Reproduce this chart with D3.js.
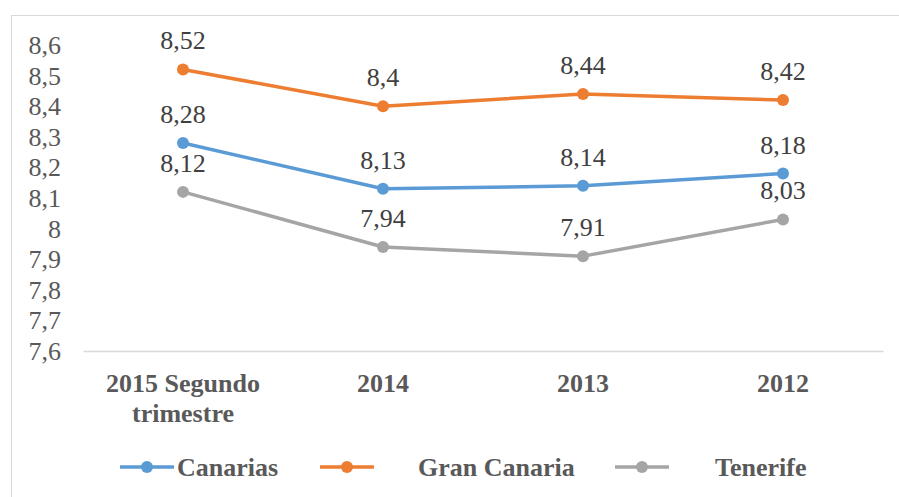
<!DOCTYPE html>
<html>
<head>
<meta charset="utf-8">
<script src="https://cdn.jsdelivr.net/npm/d3@7"></script>
</head>
<body style="margin:0; background:#fff">
<svg id="chart" width="899" height="497"></svg>
<script>
// datos
let categories = ['2015 Segundo trimestre', '2014', '2013', '2012']
let seriesNames = ['Canarias', 'Gran Canaria', 'Tenerife']
let canarias = [8.28, 8.13, 8.14, 8.18]
let granCanaria = [8.52, 8.4, 8.44, 8.42]
let tenerife = [8.12, 7.94, 7.91, 8.03]
let yTicks = [7.6, 7.7, 7.8, 7.9, 8, 8.1, 8.2, 8.3, 8.4, 8.5, 8.6]

let colors = ['#5B9BD5', '#ED7D31', '#A5A5A5']
let series = [canarias, granCanaria, tenerife].map(function (vals, i) {
  return { name: seriesNames[i], color: colors[i], values: vals }
})

let svg = d3.select('#chart')
let fmt = function (v) { return String(v).replace('.', ',') }

// texto con fuente serif
function addText (parent, px, py, str, opts) {
  let t = parent.append('text')
    .attr('x', px).attr('y', py)
    .attr('font-family', 'Liberation Serif')
    .attr('font-size', opts.size || 26)
    .attr('fill', opts.fill || '#595959')
    .attr('text-anchor', opts.anchor || 'start')
  if (opts.bold) t.attr('font-weight', 'bold')
  t.text(str)
  return t
}

// marco
svg.append('rect')
  .attr('x', 11.5).attr('y', 15.5)
  .attr('width', 920).attr('height', 520)
  .attr('fill', 'none').attr('stroke', '#d9d9d9')

let x = d3.scaleBand().domain(categories).range([83, 883])
let y = d3.scaleLinear().domain([7.6, 8.6]).range([351, 45])
let cxCat = function (c) { return x(c) + x.bandwidth() / 2 }

// eje y (etiquetas a partir de la escala)
let gY = svg.append('g')
y.ticks(10).forEach(function () {})
yTicks.forEach(function (t) {
  addText(gY, 61, y(t) + 9, fmt(t), { anchor: 'end' })
})

// eje x
let gX = svg.append('g')
  .attr('transform', 'translate(0,351)')
  .call(d3.axisBottom(x).tickSize(0).tickFormat(''))
gX.select('.domain').attr('stroke', '#d9d9d9').attr('stroke-width', 1.5)

let catLabels = svg.append('g')
categories.forEach(function (c) {
  let words = c === '2015 Segundo trimestre' ? ['2015 Segundo', 'trimestre'] : [c]
  words.forEach(function (w, i) {
    addText(catLabels, cxCat(c), 392 + i * 30, w, { anchor: 'middle', bold: true })
  })
})

let cx = function (d, i) { return cxCat(categories[i]) }

let line = d3.line()
  .x(cx)
  .y(function (d) { return y(d) })

// lineas y puntos
series.forEach(function (s) {
  let g = svg.append('g')
  g.append('path')
    .datum(s.values)
    .attr('d', line)
    .attr('fill', 'none')
    .attr('stroke', s.color)
    .attr('stroke-width', 3.5)
    .attr('stroke-linejoin', 'round')
  g.selectAll('circle')
    .data(s.values)
    .enter()
    .append('circle')
    .attr('cx', cx)
    .attr('cy', function (d) { return y(d) })
    .attr('r', 6)
    .attr('fill', s.color)
  s.values.forEach(function (v, i) {
    addText(g, cx(v, i), y(v) - 20, fmt(v), { anchor: 'middle', fill: '#404040' })
  })
})

// leyenda
let legendX = [120, 320, 615]
let legendTextX = [177, 418, 715]
let legend = svg.append('g')
series.forEach(function (s, i) {
  legend.append('line')
    .attr('x1', legendX[i]).attr('x2', legendX[i] + 54)
    .attr('y1', 467).attr('y2', 467)
    .attr('stroke', s.color).attr('stroke-width', 3.5)
  legend.append('circle')
    .attr('cx', legendX[i] + 27).attr('cy', 467).attr('r', 6)
    .attr('fill', s.color)
  addText(legend, legendTextX[i], 476, s.name, { bold: true })
})
</script>
</body>
</html>
